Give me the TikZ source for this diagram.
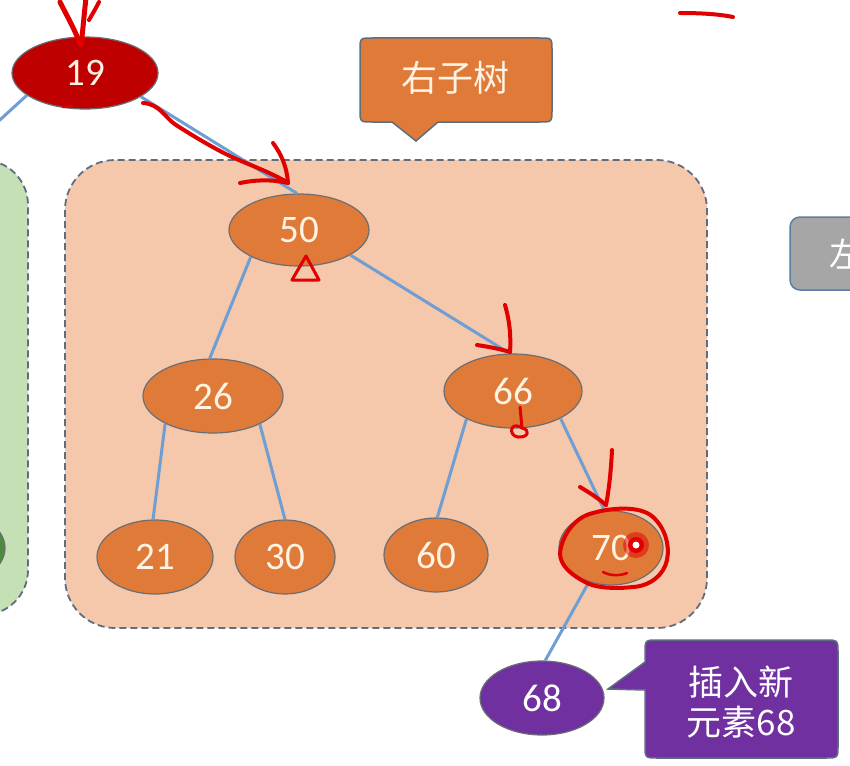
\documentclass[tikz,border=0pt]{standalone}
\usepackage{fontspec}
\setmainfont{Carlito}
\newfontfamily\cjk{Noto Sans CJK SC}
\usetikzlibrary{shapes.geometric}
\definecolor{nodeor}{HTML}{E07A38}
\definecolor{nodetxt}{HTML}{FFF4E4}
\definecolor{nodeln}{HTML}{6A6E74}
\definecolor{peach}{HTML}{F5C7AB}
\definecolor{greenfill}{HTML}{C6E0B5}
\definecolor{regionln}{HTML}{5E6E80}
\definecolor{edgeblue}{HTML}{6E9ED3}
\definecolor{darkred}{HTML}{BE0000}
\definecolor{purp}{HTML}{7030A0}
\definecolor{grayfill}{HTML}{A6A6A6}
\definecolor{grayln}{HTML}{5A7EA6}
\definecolor{inkred}{HTML}{E00000}
\definecolor{darkgreen}{HTML}{4E8A3E}
\begin{document}
\begin{tikzpicture}[x=1pt,y=-1pt,
  treenode/.style={ellipse, draw=nodeln, line width=1.2pt, fill=nodeor, text=nodetxt,
    font=\fontsize{39}{44}\selectfont, inner sep=0pt},
  region/.style={draw=regionln, line width=1.8pt, dash pattern=on 7pt off 4pt},
  edgeln/.style={draw=edgeblue, line width=3pt},
  callout/.style={draw=regionln, line width=1.5pt},
  redink/.style={draw=inkred, line width=4pt, line cap=round, line join=round},
  cjktext/.style={font=\cjk\fontsize{36}{41}\selectfont, text=nodetxt, align=center}
]
\useasboundingbox (0,0) rectangle (850,765);
\fill[white] (0,0) rectangle (850,765);
\clip (0,0) rectangle (850,765);

% regions
\draw[region, fill=greenfill, rounded corners=45pt] (-80,160) rectangle (28,615);
\draw[region, fill=peach, rounded corners=50pt] (65,160) rectangle (707,628);

% right grey box (cut at the edge as in the reference)
\draw[fill=grayfill, draw=grayln, line width=1.5pt, rounded corners=10pt] (790,217) rectangle (900,290);
\node[font=\cjk\fontsize{34}{40}\selectfont, text=white] (leftlabel) at (846,254) {左};

% callout right subtree
\draw[callout, fill=nodeor] (360,50) .. controls (360,38) .. (372,38) -- (540,38)
  .. controls (552,38) .. (552,50) -- (552,110) .. controls (552,122) .. (540,122)
  -- (438,122) -- (416,141) -- (392,122) -- (372,122) .. controls (360,122) .. (360,110) -- cycle;
\node[cjktext] (rtitle) at (455,78) {右子树};

% callout purple
\draw[callout, fill=purp] (645,653) .. controls (645,640) .. (658,640) -- (825,640)
  .. controls (838,640) .. (838,653) -- (838,745) .. controls (838,758) .. (825,758)
  -- (658,758) .. controls (645,758) .. (645,745) -- (645,690) -- (608,689) -- (645,662) -- cycle;
\node[cjktext, text=white, font=\cjk\fontsize{35}{40}\selectfont] (ins) at (741,702) {插入新\\元素68};

% nodes
\node[treenode, fill=darkgreen, minimum width=110pt, minimum height=74pt] (g) at (-50,548) {};
\node[treenode, fill=darkred, minimum width=146pt, minimum height=72pt] (n19) at (85,73) {19};
\node[treenode, minimum width=140pt, minimum height=72pt] (n50) at (299,230) {50};
\node[treenode, minimum width=140pt, minimum height=74pt] (n26) at (213,396) {26};
\node[treenode, minimum width=138pt, minimum height=74pt] (n66) at (513,391) {66};
\node[treenode, minimum width=116pt, minimum height=74pt] (n21) at (155,557) {21};
\node[treenode, minimum width=100pt, minimum height=74pt] (n30) at (285,557) {30};
\node[treenode, minimum width=104pt, minimum height=74pt] (n60) at (436,555) {60};
\node[treenode, minimum width=104pt, minimum height=74pt] (n70) at (611,548) {70};
\node[treenode, fill=purp, text=white, minimum width=124pt, minimum height=74pt] (n68) at (542,698) {68};

% edges
\coordinate (lft) at (-10,129);
\draw[edgeln] (n19.201) -- (lft);
\draw[edgeln] (n19.337) -- (n50.93);
\draw[edgeln] (n50.209) -- (n26.95);
\draw[edgeln] (n50.334) -- (n66.95);
\draw[edgeln] (n26.210) -- (n21.93);
\draw[edgeln] (n26.329) -- (n30.90);
\draw[edgeln] (n66.211) -- (n60.88);
\draw[edgeln] (n66.330) -- (n70.100);
\draw[edgeln] (n70.237) -- (n68.85);

% red hand-drawn marks
\draw[redink, line width=5pt] (60,2) .. controls (68,18) and (75,30) .. (80,44);
\draw[redink, line width=5pt] (86,-2) .. controls (84,15) and (83,30) .. (81,45);
\draw[redink] (99,2) .. controls (96,8) and (93,13) .. (89,20);
\draw[redink, line width=2.5pt] (63,107) -- (72,106);
\draw[redink] (143,103) .. controls (160,104) and (165,118) .. (176,125)
  .. controls (190,134) and (205,143) .. (220,151)
  .. controls (240,162) and (262,168) .. (287,182);
\draw[redink] (240,183) .. controls (255,180) and (270,179) .. (288,183);
\draw[redink] (273,143) .. controls (282,155) and (287,168) .. (288,183);
\draw[redink] (680,13) .. controls (700,13) and (718,14) .. (733,17);
\draw[redink, line width=3pt] (306,256) -- (292,280) -- (319,280) -- cycle;
\draw[redink] (505,305) .. controls (510,322) and (511,338) .. (510,352);
\draw[redink] (477,345) .. controls (490,347) and (500,349) .. (510,352);
\draw[redink, line width=3pt] (520,407) -- (522,428) .. controls (510,420) and (508,436) .. (518,437)
  .. controls (528,438) and (531,430) .. (522,428);
\draw[redink] (612,450) .. controls (611,470) and (609,490) .. (606,505);
\draw[redink] (580,487) .. controls (590,493) and (598,498) .. (606,505);
\draw[redink] (560,553) .. controls (562,535) and (575,517) .. (593,513)
  .. controls (610,508) and (640,505) .. (653,517)
  .. controls (665,528) and (670,545) .. (667,560)
  .. controls (664,575) and (650,586) .. (633,587)
  .. controls (615,589) and (595,588) .. (585,582)
  .. controls (570,574) and (560,565) .. (560,553);
\draw[redink, line width=2.5pt] (603,572) .. controls (610,576) and (620,576) .. (627,573);
\fill[inkred, opacity=0.5] (636,545) circle (13pt);
\fill[inkred] (636,545) circle (8pt);
\fill[white] (636,545) circle (3.5pt);
\end{tikzpicture}
\end{document}
